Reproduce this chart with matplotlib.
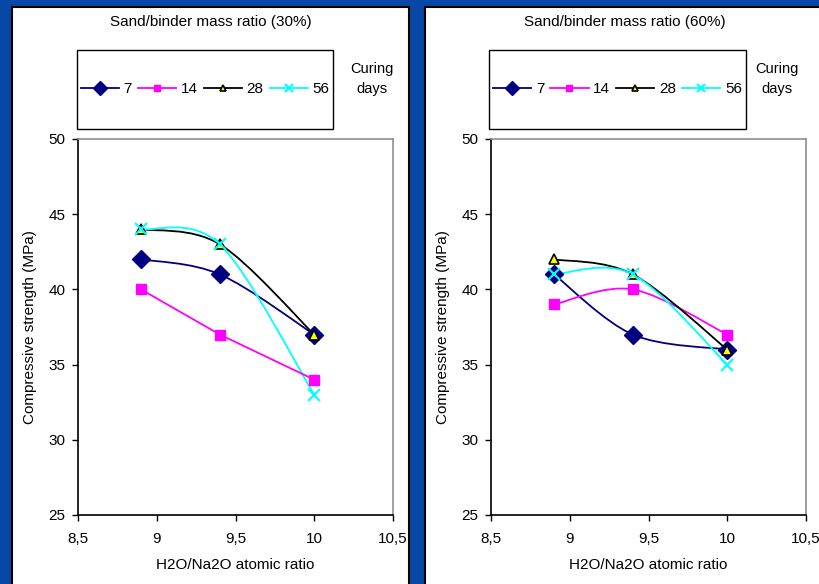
import matplotlib
matplotlib.use('Agg')
import matplotlib.pyplot as plt
from matplotlib.patches import Rectangle, PathPatch
from matplotlib.path import Path
from matplotlib.lines import Line2D

plt.rcParams['font.family'] = ['Liberation Sans', 'DejaVu Sans']

# water / sodium oxide ratio
ratio = [8.9, 9.4, 10.0]
days = ['7', '14', '28', '56']

# sand/binder 30 %
s30_d7 = [42, 41, 37]
s30_d14 = [40, 37, 34]
s30_d28 = [44, 43, 37]
s30_d56 = [44, 43, 33]

# sand/binder 60 %
s60_d7 = [41, 37, 36]
s60_d14 = [39, 40, 37]
s60_d28 = [42, 41, 36]
s60_d56 = [41, 41, 35]

xticks = [8.5, 9, 9.5, 10, 10.5]
xticklabels = ['8,5', '9', '9,5', '10', '10,5']
yticks = [25, 30, 35, 40, 45, 50]

styles = [
    dict(color='#000080', marker='D', ms=9, mfc='#000080', mec='#000080', mew=1),
    dict(color='#FF00FF', marker='s', ms=7, mfc='#FF00FF', mec='#FF00FF', mew=1),
    dict(color='#000000', marker='^', ms=7, mfc='#FFFF00', mec='#000000', mew=1.2),
    dict(color='#00FFFF', marker='x', ms=8, mfc='#00FFFF', mec='#00FFFF', mew=1.5),
]

W, H = 819, 584
BLUE = '#0747A6'


def smooth_path(x, y):
    # Excel style smoothed line: cubic bezier with 1/6 tangents
    verts = [(x[0], y[0])]
    codes = [Path.MOVETO]
    n = len(x)
    for i in range(n - 1):
        x0, y0 = (x[i - 1], y[i - 1]) if i > 0 else (x[i], y[i])
        x3, y3 = (x[i + 2], y[i + 2]) if i + 2 < n else (x[i + 1], y[i + 1])
        c1 = (x[i] + (x[i + 1] - x0) / 6, y[i] + (y[i + 1] - y0) / 6)
        c2 = (x[i + 1] - (x3 - x[i]) / 6, y[i + 1] - (y3 - y[i]) / 6)
        verts += [c1, c2, (x[i + 1], y[i + 1])]
        codes += [Path.CURVE4] * 3
    return Path(verts, codes)


def fx(px):
    return px / W


def fy(py):
    return 1 - py / H


fig = plt.figure(figsize=(8.19, 5.84), dpi=100, facecolor=BLUE)

panels = [
    dict(x0=12, x1=409, ax=(78, 393), title='Sand/binder mass ratio (30%)', tx=211,
         series=[s30_d7, s30_d14, s30_d28, s30_d56], smooth=[True, False, True, True],
         legbox=(77, 333), curing=372),
    dict(x0=425, x1=840, ax=(491, 806), title='Sand/binder mass ratio (60%)', tx=625,
         series=[s60_d7, s60_d14, s60_d28, s60_d56], smooth=[True, True, True, True],
         legbox=(489, 746), curing=777),
]

for p in panels:
    # white panel with black border
    fig.patches.append(Rectangle((fx(p['x0']), fy(600)), fx(p['x1'] - p['x0']), (600 - 7) / H,
                                 transform=fig.transFigure, facecolor='white',
                                 edgecolor='black', linewidth=1.5, zorder=0))
    fig.text(fx(p['tx']), fy(22), p['title'], ha='center', va='center', fontsize=11)

    # legend box
    lb0, lb1 = p['legbox']
    fig.patches.append(Rectangle((fx(lb0), fy(129)), fx(lb1 - lb0), 79 / H,
                                 transform=fig.transFigure, facecolor='white',
                                 edgecolor='black', linewidth=1, zorder=1))
    fig.text(fx(p['curing']), fy(79), 'Curing\ndays', ha='center', va='center',
             fontsize=10.5, linespacing=1.5)

    a0, a1 = p['ax']
    ax = fig.add_axes([fx(a0), fy(515), fx(a1 - a0), (515 - 139) / H])
    ax.set_zorder(3)
    ax.set_facecolor('white')
    for vals, st, sm in zip(p['series'], styles, p['smooth']):
        if sm:
            ax.add_patch(PathPatch(smooth_path(ratio, vals), facecolor='none',
                                   edgecolor=st['color'], linewidth=1.3))
        else:
            ax.plot(ratio, vals, color=st['color'], linewidth=1.3)
        ax.plot(ratio, vals, linestyle='none', marker=st['marker'], ms=st['ms'],
                mfc=st['mfc'], mec=st['mec'], mew=st['mew'], clip_on=False)

    ax.set_xlim(8.5, 10.5)
    ax.set_ylim(25, 50)
    ax.set_xticks(xticks)
    ax.set_xticklabels(xticklabels)
    ax.set_yticks(yticks)
    ax.tick_params(direction='out', length=4, width=1, labelsize=11, pad=5)
    ax.tick_params(axis='x', pad=8)
    for s in ['left', 'bottom']:
        ax.spines[s].set_color('black')
        ax.spines[s].set_linewidth(1.2)
    for s in ['top', 'right']:
        ax.spines[s].set_color('#909090')
        ax.spines[s].set_linewidth(1.2)
    ax.set_xlabel('H2O/Na2O atomic ratio', fontsize=11, labelpad=9)
    ax.set_ylabel('Compressive strength (MPa)', fontsize=11, labelpad=8)

    handles = [Line2D([0], [0], color=st['color'], linewidth=1.3, marker=st['marker'],
                      ms=st['ms'] - 2, mfc=st['mfc'], mec=st['mec'], mew=st['mew'])
               for st in styles]
    fig.legend(handles, days, loc='center', ncol=4, frameon=False, fontsize=11,
               bbox_to_anchor=(fx((lb0 + lb1) / 2), fy(89)), bbox_transform=fig.transFigure,
               handlelength=2.5, handletextpad=0.3, columnspacing=0.4)

fig.savefig('out.png', dpi=100, facecolor=BLUE)
